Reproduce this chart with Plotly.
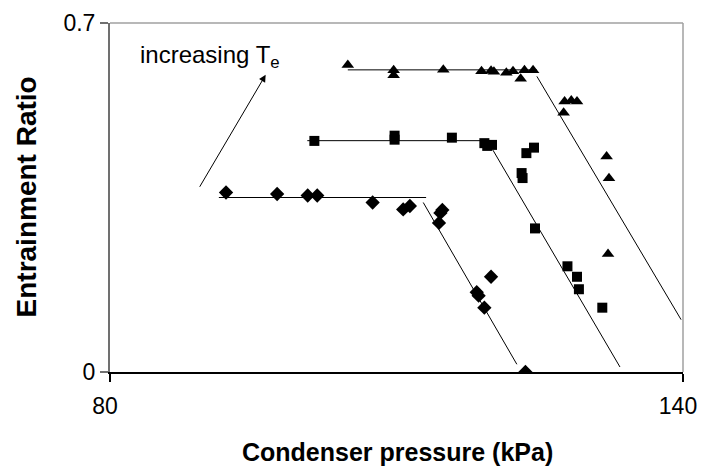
import plotly.graph_objects as go

FONT = "Liberation Sans, Arial, sans-serif"

# Measured data (condenser pressure kPa, entrainment ratio)
dia_x = [92.15, 97.5, 100.7, 101.7, 107.5, 110.7, 111.4, 114.8, 114.6, 114.45, 119.9, 118.4, 118.6, 119.2, 123.5]
dia_y = [0.360, 0.357, 0.354, 0.354, 0.340, 0.326, 0.333, 0.325, 0.319, 0.299, 0.191, 0.160, 0.153, 0.129, 0.0]

sq_x = [101.4, 109.8, 109.8, 115.8, 119.2, 119.5, 120.0, 123.6, 124.4, 123.1, 123.2, 124.5, 127.9, 128.9, 129.1, 131.55]
sq_y = [0.4635, 0.474, 0.466, 0.470, 0.459, 0.4535, 0.4555, 0.439, 0.450, 0.399, 0.389, 0.288, 0.212, 0.191, 0.166, 0.129]

tri_x = [104.9, 109.7, 109.7, 114.9, 118.9, 119.9, 120.2, 121.5, 122.2, 123.0, 123.4, 124.3, 127.6, 128.3, 128.9, 127.5, 132.0, 132.25, 132.15]
tri_y = [0.616, 0.605, 0.595, 0.606, 0.603, 0.604, 0.602, 0.600, 0.603, 0.588, 0.605, 0.605, 0.5425, 0.5445, 0.5425, 0.520, 0.432, 0.3885, 0.2365]

# Fitted trend lines (flat part, then falling part)
dia_flat_x = [91.4, 113.1]
dia_flat_y = [0.350, 0.350]
dia_fall_x = [112.8, 122.6]
dia_fall_y = [0.340, 0.0155]

sq_flat_x = [100.66, 120.1]
sq_flat_y = [0.464, 0.464]
sq_fall_x = [120.1, 133.4]
sq_fall_y = [0.445, 0.010]

tri_flat_x = [104.9, 124.7]
tri_flat_y = [0.606, 0.606]
tri_fall_x = [124.7, 139.8]
tri_fall_y = [0.593, 0.105]

arrow_tail = (89.3, 0.3685)
arrow_head = (96.3, 0.596)

x_ticks = [80, 140]
y_ticks = [0, 0.7]
y_tick_text = ["0", "0.7"]

fig = go.Figure()

line_style = dict(color="black", width=1)
for lx, ly in [(dia_flat_x, dia_flat_y), (dia_fall_x, dia_fall_y),
               (sq_flat_x, sq_flat_y), (sq_fall_x, sq_fall_y),
               (tri_flat_x, tri_flat_y), (tri_fall_x, tri_fall_y)]:
    fig.add_trace(go.Scatter(x=lx, y=ly, mode="lines", line=line_style,
                             showlegend=False, hoverinfo="skip"))

fig.add_trace(go.Scatter(x=dia_x, y=dia_y, mode="markers",
                         marker=dict(symbol="diamond", size=11, color="black"),
                         showlegend=False))
fig.add_trace(go.Scatter(x=sq_x, y=sq_y, mode="markers",
                         marker=dict(symbol="square", size=10, color="black"),
                         showlegend=False))
fig.add_trace(go.Scatter(x=tri_x, y=tri_y, mode="markers",
                         marker=dict(symbol="triangle-up", size=11, color="black"),
                         showlegend=False))

# plot-area border (top and right) in grey
fig.add_shape(type="line", xref="paper", yref="paper", x0=0, x1=1, y0=1, y1=1,
              line=dict(color="#a0a0a0", width=1.5))
fig.add_shape(type="line", xref="paper", yref="paper", x0=1, x1=1, y0=0, y1=1,
              line=dict(color="#a0a0a0", width=1.5))

fig.add_annotation(x=arrow_head[0], y=arrow_head[1], ax=arrow_tail[0], ay=arrow_tail[1],
                   xref="x", yref="y", axref="x", ayref="y", text="",
                   showarrow=True, arrowhead=2, arrowsize=1.4, arrowwidth=1,
                   arrowcolor="black", standoff=0)
fig.add_annotation(x=82.9, y=0.632, xref="x", yref="y", xanchor="left", yanchor="middle",
                   text="increasing T<sub>e</sub>", showarrow=False,
                   font=dict(family=FONT, size=24, color="black"))

# axis titles
fig.add_annotation(x=0.501, y=-0.2305, xref="paper", yref="paper",
                   xanchor="center", yanchor="middle", showarrow=False,
                   text="<b>Condenser pressure (kPa)</b>",
                   font=dict(family=FONT, size=25, color="black"))
fig.add_annotation(x=-0.1466, y=0.503, xref="paper", yref="paper",
                   xanchor="center", yanchor="middle", showarrow=False, textangle=-90,
                   text="<b>Entrainment Ratio</b>",
                   font=dict(family=FONT, size=28, color="black"))

# page body has an 8px margin, so the figure is offset by 8px
fig.update_layout(
    width=698, height=460,
    margin=dict(l=102, r=23, t=15, b=96),
    paper_bgcolor="white", plot_bgcolor="white",
    font=dict(family=FONT, size=24, color="black"),
    xaxis=dict(range=[80, 140], tickvals=x_ticks, ticktext=[str(v) for v in x_ticks],
               showgrid=False, zeroline=False, showline=True, linecolor="black", linewidth=1.5,
               ticks="outside", ticklen=8, tickcolor="black", tickwidth=1.5,
               tickfont=dict(size=23), ticklabelshift=-5, ticklabelstandoff=5,
               ticklabeloverflow="allow", automargin=False),
    yaxis=dict(range=[0, 0.7], tickvals=y_ticks, ticktext=y_tick_text,
               showgrid=False, zeroline=False, showline=True, linecolor="#707070", linewidth=2,
               ticks="outside", ticklen=8, tickcolor="#707070", tickwidth=1.5,
               tickfont=dict(size=23), automargin=False),
)

fig.write_html("out.html")
